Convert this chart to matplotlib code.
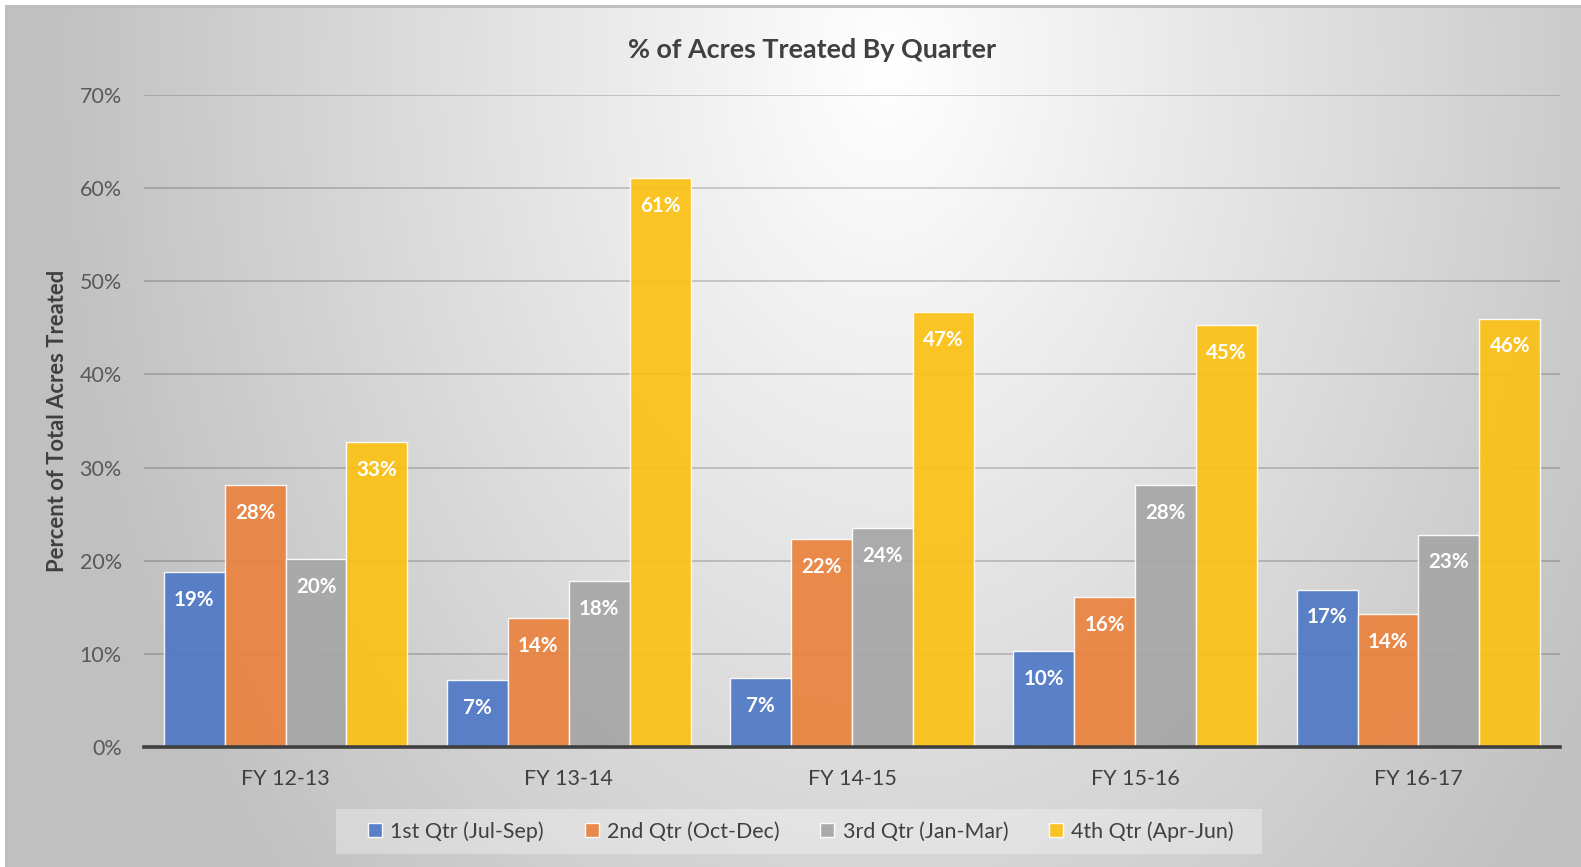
import numpy as np
import matplotlib
matplotlib.use("Agg")
import matplotlib.pyplot as plt
from matplotlib.patches import Patch, Rectangle
from matplotlib.lines import Line2D
from matplotlib.ticker import PercentFormatter

categories = ["FY 12-13", "FY 13-14", "FY 14-15", "FY 15-16", "FY 16-17"]
series_names = ["1st Qtr (Jul-Sep)", "2nd Qtr (Oct-Dec)", "3rd Qtr (Jan-Mar)", "4th Qtr (Apr-Jun)"]
q1 = [18.8, 7.2, 7.4, 10.3, 16.9]
q2 = [28.1, 13.8, 22.3, 16.1, 14.3]
q3 = [20.2, 17.8, 23.5, 28.1, 22.8]
q4 = [32.7, 61.1, 46.7, 45.3, 46.0]
series = [q1, q2, q3, q4]
colors = ["#4F78C6", "#EA823E", "#A6A6A6", "#FCC114"]

plt.rcParams['font.family'] = ['Lato', 'DejaVu Sans']

W, H = 1581, 867
fig = plt.figure(figsize=(W / 100, H / 100), dpi=100)
fig.patch.set_facecolor("white")

# background gradient (chart area)
bg = fig.add_axes([6 / W, 0, 1 - 6 / W, 1 - 6 / H], zorder=-10)
yy, xx = np.mgrid[0:H - 6, 0:W - 6]
cx, cy = 880, 60
d = np.sqrt(((xx - cx) / 860.0) ** 2 + ((yy - cy) / 1240.0) ** 2)
val = np.clip(255 - 64 * d, 192, 255) / 255.0
img = np.dstack([val, val, val])
bg.imshow(img, aspect="auto", extent=[0, 1, 0, 1], origin="upper", interpolation="bilinear")
bg.set_axis_off()
fig.add_artist(Line2D([6 / W, 1], [1 - 6 / H, 1 - 6 / H], color="#BDBDBD", lw=2, transform=fig.transFigure))
fig.add_artist(Line2D([6 / W, 6 / W], [0, 1 - 6 / H], color="#BDBDBD", lw=2, transform=fig.transFigure))

left, right = 144 / W, 1560 / W
bottom, top = 1 - 747 / H, 1 - 95 / H
ax = fig.add_axes([left, bottom, right - left, top - bottom])
ax.patch.set_alpha(0)

x = np.arange(len(categories))
bw = 0.215
for i, (vals, c, name) in enumerate(zip(series, colors, series_names)):
    pos = x + (i - 1.5) * bw
    bars = ax.bar(pos, vals, width=bw, color=c, alpha=0.92, edgecolor=(1, 1, 1, 0.7),
                  linewidth=1.0, zorder=3, label=name)
    for b, v in zip(bars, vals):
        ax.annotate(f"{v:.0f}%", (b.get_x() + b.get_width() / 2, v), xytext=(0, -20),
                    textcoords="offset points", ha="center", va="center",
                    color="white", fontsize=14.8, fontweight="bold", zorder=5)

ax.set_xlim(-0.5, len(categories) - 0.5)
ax.set_ylim(0, 70)
ax.set_yticks(np.arange(0, 71, 10))
ax.yaxis.set_major_formatter(PercentFormatter(decimals=0))
ax.set_xticks(x)
ax.set_xticklabels(categories)
ax.grid(axis="y", color="black", alpha=0.19, linewidth=1.3, zorder=0)
ax.set_axisbelow(True)
for s in ["top", "right", "left"]:
    ax.spines[s].set_visible(False)
ax.spines["bottom"].set_color("#404040")
ax.spines["bottom"].set_linewidth(2.6)
ax.spines["bottom"].set_zorder(6)
ax.tick_params(axis="both", length=0, labelsize=15.5, colors="#595959")
ax.tick_params(axis="x", pad=16, labelcolor="#404040")
ax.tick_params(axis="y", pad=16)

ax.set_ylabel("Percent of Total Acres Treated", fontsize=15.8, fontweight="bold", color="#404040")
ax.yaxis.set_label_coords(-(144 - 68) / (1560 - 144), 0.5)

fig.text(812 / W, 1 - 50 / H, "% of Acres Treated By Quarter", ha="center", va="center",
         fontsize=19.4, fontweight="bold", color="#404040")

# legend box
fig.add_artist(Rectangle((336 / W, 1 - 854 / H), (1262 - 336) / W, 45 / H,
                         transform=fig.transFigure, facecolor="white", alpha=0.3,
                         edgecolor="none", zorder=1))
handles = [Patch(facecolor=c, edgecolor=(1, 1, 1, 0.7), alpha=0.92) for c in colors]
leg = fig.legend(handles, series_names, loc="center", bbox_to_anchor=(801 / W, 1 - 831.5 / H),
                 ncol=4, frameon=False, fontsize=15.4, handlelength=0.65, handleheight=0.65,
                 handletextpad=0.4, columnspacing=1.9, labelcolor="#404040")

fig.savefig("out.png", dpi=100)
